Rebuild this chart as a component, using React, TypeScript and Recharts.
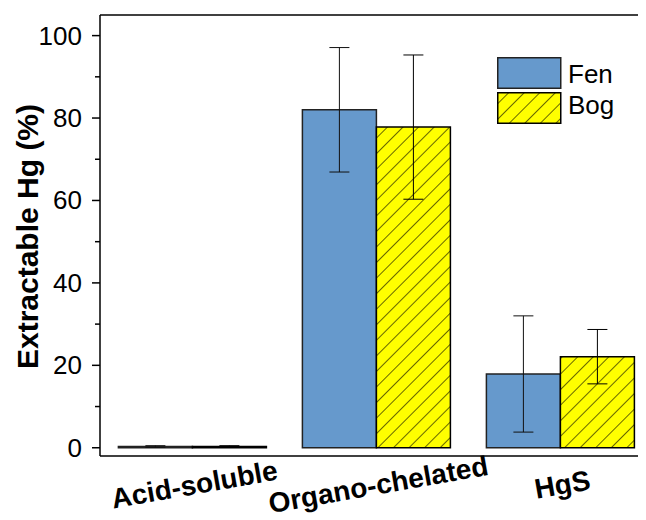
import React from 'react';
import { BarChart, Bar, XAxis, YAxis, ErrorBar, Legend, ReferenceLine, Label } from 'recharts';

const categories = ['Acid-soluble', 'Organo-chelated', 'HgS'];
const fenValues = [0.3, 82.0, 17.9];
const fenErrors = [0.2, 15.1, 14.1];
const bogValues = [0.3, 77.8, 22.1];
const bogErrors = [0.2, 17.5, 6.6];
const yTicks = [0, 10, 20, 30, 40, 50, 60, 70, 80, 90, 100];
const yMajorTicks = [0, 20, 40, 60, 80, 100];
const seriesNames = ['Fen', 'Bog'];

const FONT = '"Liberation Sans", Arial, Helvetica, sans-serif';
const FEN_COLOR = '#6699cc';
const BOG_COLOR = '#ffff00';

const data = categories.map((c, i) => ({
  name: c,
  fen: fenValues[i],
  fenErr: fenErrors[i],
  bog: bogValues[i],
  bogErr: bogErrors[i],
}));

const YTick = (props: any) => {
  const { x, y, payload } = props;
  const v = payload.value;
  const major = yMajorTicks.includes(v);
  return (
    <g>
      <line x1={x - (major ? 8 : 5)} x2={x} y1={y} y2={y} stroke="#000" strokeWidth={1.5} />
      {major && (
        <text x={x - 18} y={y} textAnchor="end" dominantBaseline="central" fontSize={26} fontFamily={FONT} fill="#000">
          {v}
        </text>
      )}
    </g>
  );
};

const XTick = (props: any) => {
  const { x, y, payload } = props;
  const tx = x + 4;
  const ty = y + 38;
  return (
    <text
      x={tx}
      y={ty}
      textAnchor="middle"
      transform={`rotate(-10, ${tx}, ${ty})`}
      fontSize={28}
      fontWeight="bold"
      fontFamily={FONT}
      fill="#000"
    >
      {payload.value}
    </text>
  );
};

const YLabel = (props: any) => {
  const vb = props.viewBox || { y: 7, height: 441 };
  const cy = vb.y + vb.height / 2 + 1;
  const cx = 30;
  return (
    <text
      x={cx}
      y={cy}
      textAnchor="middle"
      transform={`rotate(-90, ${cx}, ${cy})`}
      fontSize={30}
      fontWeight="bold"
      fontFamily={FONT}
      fill="#000"
    >
      Extractable Hg (%)
    </text>
  );
};

const LegendContent = () => (
  <svg width={140} height={70} style={{ display: 'block', overflow: 'visible' }}>
    <defs>
      <pattern id="hatchLegend" width="11" height="11" patternUnits="userSpaceOnUse" patternTransform="rotate(45)">
        <rect width="11" height="11" fill={BOG_COLOR} />
        <line x1="0" y1="0" x2="0" y2="11" stroke="#000" strokeWidth={1.2} />
      </pattern>
    </defs>
    <rect x={0.75} y={0.75} width={63} height={30.5} fill={FEN_COLOR} stroke="#222" strokeWidth={1.5} />
    <text x={71} y={26} fontSize={26} fontFamily={FONT} fill="#000">{seriesNames[0]}</text>
    <rect x={0.75} y={35.75} width={63} height={30.5} fill="url(#hatchLegend)" stroke="#000" strokeWidth={1.5} />
    <text x={71} y={57} fontSize={26} fontFamily={FONT} fill="#000">{seriesNames[1]}</text>
  </svg>
);

export default function App() {
  return (
    <div style={{ width: 638, height: 512, overflow: 'hidden' }}>
      <BarChart
        width={660}
        height={512}
        data={data}
        margin={{ top: 7, right: 16, bottom: 0, left: 0 }}
        barCategoryGap="10%"
        barGap={0}
      >
        <defs>
          <pattern id="hatchBog" width="11" height="11" patternUnits="userSpaceOnUse" patternTransform="rotate(45)">
            <rect width="11" height="11" fill={BOG_COLOR} />
            <line x1="0" y1="0" x2="0" y2="11" stroke="#000" strokeWidth={1.2} />
          </pattern>
        </defs>
        <XAxis
          dataKey="name"
          height={64}
          tickLine={false}
          tickSize={0}
          tickMargin={0}
          tick={<XTick />}
          interval={0}
          axisLine={{ stroke: '#000', strokeWidth: 1.5 }}
        />
        <YAxis
          type="number"
          domain={[-2, 105]}
          allowDataOverflow
          ticks={yTicks}
          interval={0}
          width={92}
          tickLine={false}
          tickSize={0}
          tickMargin={0}
          tick={<YTick />}
          axisLine={{ stroke: '#000', strokeWidth: 1.5 }}
        >
          <Label content={<YLabel />} />
        </YAxis>
        <ReferenceLine y={105} stroke="#000" strokeWidth={1.5} />
        <Legend
          layout="vertical"
          align="center"
          verticalAlign="middle"
          content={<LegendContent />}
          wrapperStyle={{ position: 'absolute', left: 489, top: 49, width: 140, height: 70 }}
        />
        <Bar dataKey="fen" name={seriesNames[0]} fill={FEN_COLOR} stroke="#222" strokeWidth={1.5} isAnimationActive={false}>
          <ErrorBar dataKey="fenErr" width={10} stroke="#111" strokeWidth={1} />
        </Bar>
        <Bar dataKey="bog" name={seriesNames[1]} fill="url(#hatchBog)" stroke="#000" strokeWidth={1.5} isAnimationActive={false}>
          <ErrorBar dataKey="bogErr" width={10} stroke="#000" strokeWidth={1} />
        </Bar>
      </BarChart>
    </div>
  );
}
